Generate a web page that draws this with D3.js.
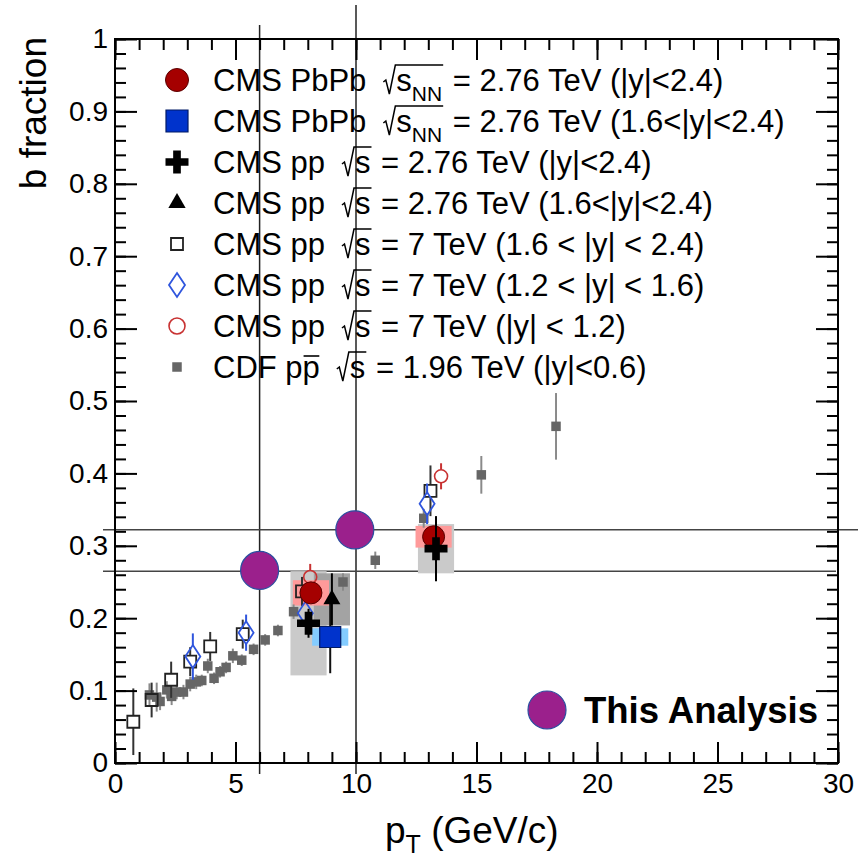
<!DOCTYPE html>
<html>
<head>
<meta charset="utf-8">
<script src="https://cdn.jsdelivr.net/npm/d3@7"></script>
<style>
body { margin: 0; background: #fff; }
text { font-family: "Liberation Sans", Arial, sans-serif; white-space: pre; }
</style>
</head>
<body>
<div class="viz"></div>
<script>
var width = 858,
    height = 863,
    frame = { left: 115, right: 838, top: 39, bottom: 763 },
    boxHalf = 0.75,
    legendFont = 31;

// CDF ppbar 1.96 TeV (|y|<0.6)
var cdfPt  = [1.43, 1.73, 1.87, 2.15, 2.35, 2.56, 2.84, 3.12, 3.37, 3.6, 3.85, 4.11, 4.36, 4.61, 4.89, 5.26, 5.75, 6.23, 6.76, 7.41, 9.46, 10.8, 12.81, 15.2, 18.3];
var cdfB   = [0.094, 0.091, 0.085, 0.101, 0.092, 0.098, 0.098, 0.109, 0.112, 0.114, 0.134, 0.117, 0.126, 0.132, 0.148, 0.142, 0.157, 0.17, 0.183, 0.209, 0.25, 0.28, 0.338, 0.398, 0.465];
var cdfErr = [0.016, 0.02, 0.012, 0.012, 0.012, 0.01, 0.01, 0.01, 0.01, 0.008, 0.01, 0.008, 0.008, 0.008, 0.01, 0.008, 0.008, 0.008, 0.008, 0.01, 0.012, 0.012, 0.013, 0.026, 0.046];

// CMS pp 7 TeV
var pp7FwdPt  = [0.76, 1.52, 2.33, 3.12, 3.95, 5.3, 7.76, 13.09];
var pp7FwdB   = [0.057, 0.087, 0.115, 0.14, 0.161, 0.178, 0.237, 0.376];
var pp7FwdErr = [0.046, 0.024, 0.025, 0.02, 0.02, 0.02, 0.02, 0.035];
var pp7MidPt  = [3.23, 5.44, 7.9, 12.95];
var pp7MidB   = [0.147, 0.18, 0.207, 0.358];
var pp7MidErr = [0.032, 0.025, 0.016, 0.028];
var pp7CenPt  = [8.1, 13.53];
var pp7CenB   = [0.257, 0.396];
var pp7CenErr = [0.018, 0.018];

// CMS PbPb 2.76 TeV
var pbPt   = [8.13, 13.22];
var pbB    = [0.235, 0.3125];
var pbErr  = [0.012, 0.012];
var pbSyst = [0.0175, 0.015];
var pbFwdPt   = [8.93];
var pbFwdB    = [0.174];
var pbFwdErr  = [0.05];
var pbFwdSyst = [0.012];

// CMS pp 2.76 TeV
var pp276Pt   = [8.03, 13.32];
var pp276B    = [0.193, 0.296];
var pp276Err  = [0.02, 0.045];
var pp276Syst = [0.072, 0.034];
var pp276FwdPt   = [9.0];
var pp276FwdB    = [0.226];
var pp276FwdErr  = [0.036];
var pp276FwdSyst = [0.036];

// this analysis
var thisPt = [6, 9.95];
var thisB  = [0.266, 0.322];
var refPt  = [6, 10];
var refB   = [0.265, 0.322];

var xMajor = d3.range(0, 31, 5),
    xMinor = d3.range(0, 31),
    yMajor = d3.range(0, 11).map(function(i) { return i / 10; }),
    yMinor = d3.range(0, 51).map(function(i) { return i / 50; });

var legendLabels = [
    { pre: "CMS PbPb", sub: "NN", post: " = 2.76 TeV (|y|<2.4)" },
    { pre: "CMS PbPb", sub: "NN", post: " = 2.76 TeV (1.6<|y|<2.4)" },
    { pre: "CMS pp", sub: "", post: " = 2.76 TeV (|y|<2.4)" },
    { pre: "CMS pp", sub: "", post: " = 2.76 TeV (1.6<|y|<2.4)" },
    { pre: "CMS pp", sub: "", post: " = 7 TeV (1.6 < |y| < 2.4)" },
    { pre: "CMS pp", sub: "", post: " = 7 TeV (1.2 < |y| < 1.6)" },
    { pre: "CMS pp", sub: "", post: " = 7 TeV (|y| < 1.2)" },
    { pre: "CDF pp", sub: "", post: " = 1.96 TeV (|y|<0.6)", bar: true }
];

var svg = d3.select(".viz")
    .append("svg")
    .attr("width", width)
    .attr("height", height);

var x = d3.scaleLinear().domain([0, 30]).range([frame.left, frame.right]);
var y = d3.scaleLinear().domain([0, 1]).range([frame.bottom, frame.top]);

function diamond(w, h) {
    return "M0," + (-h / 2) + "L" + (w / 2) + ",0L0," + (h / 2) + "L" + (-w / 2) + ",0Z";
}

var shapes = {
    pbCircle: d3.symbol().type(d3.symbolCircle).size(Math.PI * 11 * 11)(),
    pbSquare: d3.symbol().type(d3.symbolSquare).size(21 * 21)(),
    cross: d3.symbol().type(d3.symbolCross).size(294)(),
    triangle: d3.symbol().type(d3.symbolTriangle).size(125)(),
    openSquare: d3.symbol().type(d3.symbolSquare).size(12 * 12)(),
    diamond: diamond(15, 23),
    openCircle: d3.symbol().type(d3.symbolCircle).size(Math.PI * 6.5 * 6.5)(),
    cdfSquare: d3.symbol().type(d3.symbolSquare).size(9.5 * 9.5)()
};

var styles = {
    pbCircle:   { fill: "#a50000", stroke: "#5a0000", sw: 1, err: "#5a0000", gap: 0 },
    pbSquare:   { fill: "#0033cc", stroke: "#001a66", sw: 1.2, err: "#111", gap: 0 },
    cross:      { fill: "#000", stroke: "none", sw: 0, err: "#000", gap: 0 },
    triangle:   { fill: "#000", stroke: "none", sw: 0, err: "#000", gap: 0 },
    openSquare: { fill: "none", stroke: "#222", sw: 1.8, err: "#333", gap: 6 },
    diamond:    { fill: "none", stroke: "#2f55dd", sw: 1.8, err: "#2f55dd", gap: 11 },
    openCircle: { fill: "none", stroke: "#c83232", sw: 1.6, err: "#c83232", gap: 6.5 },
    cdfSquare:  { fill: "#666", stroke: "none", sw: 0, err: "#8a8a8a", gap: 0 }
};

function drawBoxes(pt, b, syst, color) {
    svg.append("g").selectAll("rect")
        .data(d3.range(pt.length))
        .enter()
        .append("rect")
        .attr("x", function(i) { return x(pt[i] - boxHalf); })
        .attr("y", function(i) { return y(b[i] + syst[i]); })
        .attr("width", function(i) { return x(pt[i] + boxHalf) - x(pt[i] - boxHalf); })
        .attr("height", function(i) { return y(b[i] - syst[i]) - y(b[i] + syst[i]); })
        .style("fill", color);
}

function drawSeries(pt, b, err, kind) {
    var st = styles[kind],
        idx = d3.range(pt.length),
        g = svg.append("g");

    g.selectAll(".eup")
        .data(idx)
        .enter()
        .append("line")
        .attr("x1", function(i) { return x(pt[i]); })
        .attr("x2", function(i) { return x(pt[i]); })
        .attr("y1", function(i) { return y(b[i] + err[i]); })
        .attr("y2", function(i) { return Math.max(y(b[i] + err[i]), y(b[i]) - st.gap); })
        .style("stroke", st.err)
        .style("stroke-width", 2);

    g.selectAll(".edown")
        .data(idx)
        .enter()
        .append("line")
        .attr("x1", function(i) { return x(pt[i]); })
        .attr("x2", function(i) { return x(pt[i]); })
        .attr("y1", function(i) { return y(b[i]) + st.gap; })
        .attr("y2", function(i) { return Math.max(y(b[i] - err[i]), y(b[i]) + st.gap); })
        .style("stroke", st.err)
        .style("stroke-width", 2);

    g.selectAll(".mk")
        .data(idx)
        .enter()
        .append("path")
        .attr("transform", function(i) { return "translate(" + x(pt[i]) + "," + y(b[i]) + ")"; })
        .attr("d", shapes[kind])
        .style("fill", st.fill)
        .style("stroke", st.stroke)
        .style("stroke-width", st.sw);
}

function drawAxis(axis, tx, ty) {
    var g = svg.append("g")
        .attr("transform", "translate(" + tx + "," + ty + ")")
        .call(axis);
    g.select(".domain").remove();
    g.selectAll(".tick line").attr("stroke", "#000").attr("stroke-width", 2);
    g.selectAll(".tick text")
        .attr("fill", "#000")
        .style("font-size", "28px")
        .style("font-family", "'Liberation Sans', Arial, sans-serif");
    return g;
}

// reference lines
svg.append("g").selectAll("line")
    .data(refPt)
    .enter()
    .append("line")
    .attr("x1", function(d) { return x(d); })
    .attr("x2", function(d) { return x(d); })
    .attr("y1", function(d, i) { return i === 0 ? 25 : 5; })
    .attr("y2", 774)
    .style("stroke", "#222")
    .style("stroke-width", 1.5);

svg.append("g").selectAll("line")
    .data(refB)
    .enter()
    .append("line")
    .attr("x1", 103)
    .attr("x2", function(d, i) { return i === 0 ? 836 : width; })
    .attr("y1", function(d) { return y(d); })
    .attr("y2", function(d) { return y(d); })
    .style("stroke", "#444")
    .style("stroke-width", 1.5);

// systematic boxes
drawBoxes(pp276Pt, pp276B, pp276Syst, "#cacaca");
drawBoxes(pp276FwdPt, pp276FwdB, pp276FwdSyst, "#a3a3a3");
drawBoxes(pbPt, pbB, pbSyst, "#ff9a9a");
drawBoxes(pbFwdPt, pbFwdB, pbFwdSyst, "#84ccff");

// data points
drawSeries(cdfPt, cdfB, cdfErr, "cdfSquare");
drawSeries(pp7FwdPt, pp7FwdB, pp7FwdErr, "openSquare");
drawSeries(pp7MidPt, pp7MidB, pp7MidErr, "diamond");
drawSeries(pp7CenPt, pp7CenB, pp7CenErr, "openCircle");
drawSeries(pbPt, pbB, pbErr, "pbCircle");
drawSeries(pbFwdPt, pbFwdB, pbFwdErr, "pbSquare");
drawSeries(pp276FwdPt, pp276FwdB, pp276FwdErr, "triangle");
drawSeries(pp276Pt, pp276B, pp276Err, "cross");

// this analysis
svg.append("g").selectAll("circle")
    .data(d3.range(thisPt.length))
    .enter()
    .append("circle")
    .attr("cx", function(i) { return x(thisPt[i]); })
    .attr("cy", function(i) { return y(thisB[i]); })
    .attr("r", 19)
    .style("fill", "#9b208c")
    .style("stroke", "#2b4fa0")
    .style("stroke-width", 1.2);

// axes
drawAxis(d3.axisBottom(x).tickValues(xMinor).tickSize(-11).tickFormat(""), 0, frame.bottom);
drawAxis(d3.axisBottom(x).tickValues(xMajor).tickSize(-21).tickPadding(10), 0, frame.bottom);
drawAxis(d3.axisTop(x).tickValues(xMinor).tickSize(-11).tickFormat(""), 0, frame.top);
drawAxis(d3.axisTop(x).tickValues(xMajor).tickSize(-21).tickFormat(""), 0, frame.top);
drawAxis(d3.axisLeft(y).tickValues(yMinor).tickSize(-11).tickFormat(""), frame.left, 0);
drawAxis(d3.axisLeft(y).tickValues(yMajor).tickSize(-22).tickPadding(7)
    .tickFormat(function(d) { return String(d); }), frame.left, 0);
drawAxis(d3.axisRight(y).tickValues(yMinor).tickSize(-11).tickFormat(""), frame.right, 0);
drawAxis(d3.axisRight(y).tickValues(yMajor).tickSize(-22).tickFormat(""), frame.right, 0);

svg.append("rect")
    .attr("x", frame.left)
    .attr("y", frame.top)
    .attr("width", frame.right - frame.left)
    .attr("height", frame.bottom - frame.top)
    .style("fill", "none")
    .style("stroke", "#000")
    .style("stroke-width", 2);

// axis titles
var xt = svg.append("text")
    .attr("x", 385)
    .attr("y", 843)
    .style("font-size", "37px");
xt.append("tspan").text("p");
xt.append("tspan").attr("dy", 10).style("font-size", "25px").text("T");
xt.append("tspan").attr("dy", -10).text(" (GeV/c)");

svg.append("text")
    .attr("transform", "translate(46,37) rotate(-90)")
    .style("text-anchor", "end")
    .style("font-size", "37px")
    .text("b fraction");

// legend
var legendKinds = ["pbCircle", "pbSquare", "cross", "triangle", "openSquare", "diamond", "openCircle", "cdfSquare"];
var legendShapes = {
    pbCircle: d3.symbol().type(d3.symbolCircle).size(Math.PI * 11.5 * 11.5)(),
    pbSquare: d3.symbol().type(d3.symbolSquare).size(22 * 22)(),
    cross: shapes.cross,
    triangle: d3.symbol().type(d3.symbolTriangle).size(130)(),
    openSquare: d3.symbol().type(d3.symbolSquare).size(12 * 12)(),
    diamond: diamond(16, 24),
    openCircle: d3.symbol().type(d3.symbolCircle).size(Math.PI * 8 * 8)(),
    cdfSquare: shapes.cdfSquare
};

var legend = svg.append("g");
legendLabels.forEach(function(lab, i) {
    var cy = 80 + i * 41,
        base = cy + 11,
        kind = legendKinds[i],
        st = styles[kind];

    legend.append("path")
        .attr("transform", "translate(177," + cy + ")")
        .attr("d", legendShapes[kind])
        .style("fill", st.fill)
        .style("stroke", st.stroke)
        .style("stroke-width", st.sw);

    var t1 = legend.append("text")
        .attr("x", 213)
        .attr("y", base)
        .style("font-size", legendFont + "px")
        .text(lab.pre);
    var w1 = t1.node().getComputedTextLength();

    if (lab.bar) {
        var startLast = t1.node().getSubStringLength(0, lab.pre.length - 1);
        legend.append("line")
            .attr("x1", 213 + startLast + 1)
            .attr("x2", 213 + w1 - 0.5)
            .attr("y1", base - 22)
            .attr("y2", base - 22)
            .style("stroke", "#000")
            .style("stroke-width", 1.6);
    }

    var x0 = 213 + w1 + 17,
        sx = x0 + 13;
    var ts = legend.append("text")
        .attr("x", sx)
        .attr("y", base)
        .style("font-size", legendFont + "px")
        .text("s");
    var xe = sx + ts.node().getComputedTextLength();
    if (lab.sub) {
        var tsub = legend.append("text")
            .attr("x", xe)
            .attr("y", base + 10)
            .style("font-size", "21px")
            .text(lab.sub);
        xe += tsub.node().getComputedTextLength();
    }
    xe += 1;

    legend.append("path")
        .attr("d", "M" + x0 + "," + (base - 9) + "L" + (x0 + 2.5) + "," + (base - 11) +
            "L" + (x0 + 6) + "," + (base + 3) + "L" + (x0 + 12) + "," + (base - 26) +
            "L" + xe + "," + (base - 26))
        .style("fill", "none")
        .style("stroke", "#000")
        .style("stroke-width", 1.5);

    legend.append("text")
        .attr("x", xe + 1)
        .attr("y", base)
        .style("font-size", legendFont + "px")
        .text(lab.post);
});

svg.append("circle")
    .attr("cx", 547)
    .attr("cy", 710)
    .attr("r", 19)
    .style("fill", "#9b208c")
    .style("stroke", "#2b4fa0")
    .style("stroke-width", 1.2);

svg.append("text")
    .attr("x", 584)
    .attr("y", 723)
    .style("font-size", "36.5px")
    .style("font-weight", "bold")
    .text("This Analysis");
</script>
</body>
</html>
